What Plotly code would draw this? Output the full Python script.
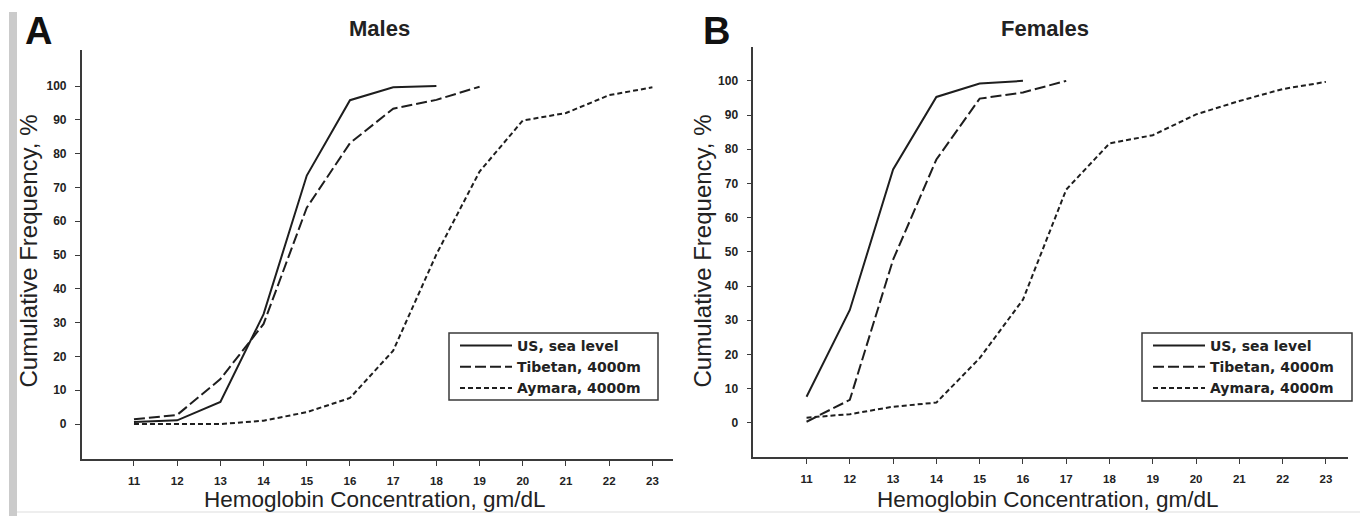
import plotly.graph_objects as go

# ---------------- data ----------------
hb_levels = [11, 12, 13, 14, 15, 16, 17, 18, 19, 20, 21, 22, 23]

males_us = [0.6, 1.1, 6.5, 32.5, 73.5, 95.8, 99.6, 100.0]
males_tibetan = [1.4, 2.7, 13.3, 29.6, 64.0, 83.1, 93.3, 95.9, 99.8]
males_aymara = [0.0, 0.0, 0.0, 1.0, 3.5, 7.7, 21.7, 50.2, 74.7, 89.8, 92.0, 97.3, 99.6]

females_us = [7.6, 33.0, 74.1, 95.3, 99.2, 100.0]
females_tibetan = [0.3, 6.7, 47.7, 77.0, 94.8, 96.6, 100.0]
females_aymara = [1.5, 2.5, 4.7, 5.9, 18.9, 36.0, 68.2, 81.7, 84.1, 90.2, 94.1, 97.6, 99.7]

series_names = ["US, sea level", "Tibetan, 4000m", "Aymara, 4000m"]
y_ticks = [0, 10, 20, 30, 40, 50, 60, 70, 80, 90, 100]

panel_titles = ["Males", "Females"]
panel_letters = ["A", "B"]
x_title = "Hemoglobin Concentration, gm/dL"
y_title = "Cumulative Frequency, %"

# ---------------- style ----------------
FONT = "Liberation Sans, Arial, sans-serif"
LEG_FONT = "DejaVu Sans, Liberation Sans, sans-serif"
INK = "#1e1e1e"
AX = "#3a3a3a"
dashes = ["solid", "11px,4px", "5px,3px"]

W, H = 1360, 516

fig = go.Figure()

male_sets = [males_us, males_tibetan, males_aymara]
female_sets = [females_us, females_tibetan, females_aymara]

for name, vals, d in zip(series_names, male_sets, dashes):
    fig.add_trace(go.Scatter(
        x=hb_levels[:len(vals)], y=vals, mode="lines", name=name,
        line=dict(color=INK, width=2, dash=d),
        xaxis="x", yaxis="y", legend="legend",
    ))
for name, vals, d in zip(series_names, female_sets, dashes):
    fig.add_trace(go.Scatter(
        x=hb_levels[:len(vals)], y=vals, mode="lines", name=name,
        line=dict(color=INK, width=2, dash=d),
        xaxis="x2", yaxis="y2", legend="legend2",
    ))

xtickfont = dict(family=FONT, size=11.5, color="#222", weight="bold")
ytickfont = dict(family=FONT, size=12, color="#222", weight="bold")

def xax(domain, rng, anchor):
    return dict(domain=domain, range=rng, anchor=anchor, tickvals=hb_levels,
                showline=True, linecolor=AX, linewidth=1.6, ticks="outside",
                ticklen=5, tickwidth=1.2, tickcolor=AX, showgrid=False,
                zeroline=False, tickfont=xtickfont, ticklabelstandoff=5,
                fixedrange=True)

def yax(domain, rng, anchor):
    return dict(domain=domain, range=rng, anchor=anchor, tickvals=y_ticks,
                showline=True, linecolor=AX, linewidth=1.6, ticks="outside",
                ticklen=5, tickwidth=1.2, tickcolor=AX, showgrid=False,
                zeroline=False, tickfont=ytickfont, ticklabelstandoff=6,
                fixedrange=True)

legend_common = dict(
    xanchor="left", yanchor="top", bgcolor="rgba(0,0,0,0)",
    borderwidth=0, font=dict(family=LEG_FONT, size=14, color="#222", weight="bold"),
    itemwidth=52, tracegroupgap=0,
)

# legend frame boxes (pixel positions of the reference frames)
leg_boxes = [(449, 658, 333, 400), (1142, 1352, 333, 401)]

fig.update_layout(
    width=W, height=H, autosize=False,
    margin=dict(l=0, r=0, t=0, b=0),
    paper_bgcolor="white", plot_bgcolor="white",
    font=dict(family=FONT, color=INK),
    showlegend=True,
    xaxis=xax([81.7 / W, 672.7 / W], [9.79, 23.47], "y"),
    yaxis=yax([1 - 459 / H, 1 - 50 / H], [-10.35, 110.65], "x"),
    xaxis2=xax([753.3 / W, 1348 / W], [9.77, 23.51], "y2"),
    yaxis2=yax([1 - 457.3 / H, 1 - 47 / H], [-10.1, 109.9], "x2"),
    legend=dict(x=(leg_boxes[0][0] + 6) / W, y=1 - 330 / H, **legend_common),
    legend2=dict(x=(leg_boxes[1][0] + 6) / W, y=1 - 330 / H, **legend_common),
)

annotations = []
# panel letters
for letter, px in zip(panel_letters, [23, 701]):
    annotations.append(dict(text=letter, x=px / W, y=1 - 8 / H, xref="paper", yref="paper",
                            xanchor="left", yanchor="top", showarrow=False,
                            font=dict(family=FONT, size=38, color="#111", weight="bold")))
# panel titles
for t, cx in zip(panel_titles, [379, 1044.5]):
    annotations.append(dict(text=t, x=cx / W, y=1 - 29 / H, xref="paper", yref="paper",
                            xanchor="center", yanchor="middle", showarrow=False,
                            font=dict(family=FONT, size=22, color="#222", weight="bold")))
# axis titles
for cx in [374, 1047]:
    annotations.append(dict(text=x_title, x=cx / W, y=1 - 499 / H, xref="paper", yref="paper",
                            xanchor="center", yanchor="middle", showarrow=False,
                            font=dict(family=FONT, size=22.5, color="#222")))
for cx in [28, 702]:
    annotations.append(dict(text=y_title, x=cx / W, y=1 - 251.5 / H, xref="paper", yref="paper",
                            xanchor="center", yanchor="middle", showarrow=False, textangle=-90,
                            font=dict(family=FONT, size=24, color="#222")))
fig.update_layout(annotations=annotations)

shapes = [
    # scan artefacts: grey strip at left edge, faint line at bottom
    dict(type="rect", xref="paper", yref="paper", x0=9 / W, x1=17 / W, y0=0, y1=1 - 12 / H,
         fillcolor="#cbcbcb", line=dict(width=0), layer="below"),
    dict(type="line", xref="paper", yref="paper", x0=17 / W, x1=1, y0=1 - 512 / H, y1=1 - 512 / H,
         line=dict(color="#dddddd", width=1), layer="below"),
]
for (bx0, bx1, by0, by1) in leg_boxes:
    shapes.append(dict(type="rect", xref="paper", yref="paper",
                       x0=bx0 / W, x1=bx1 / W, y0=1 - by1 / H, y1=1 - by0 / H,
                       fillcolor="white", line=dict(color=AX, width=1.5), layer="above"))
fig.update_layout(shapes=shapes)

fig.write_html("out.html", config={"displayModeBar": False},
               post_script="document.body.style.margin='0px';document.body.style.overflow='hidden';")
